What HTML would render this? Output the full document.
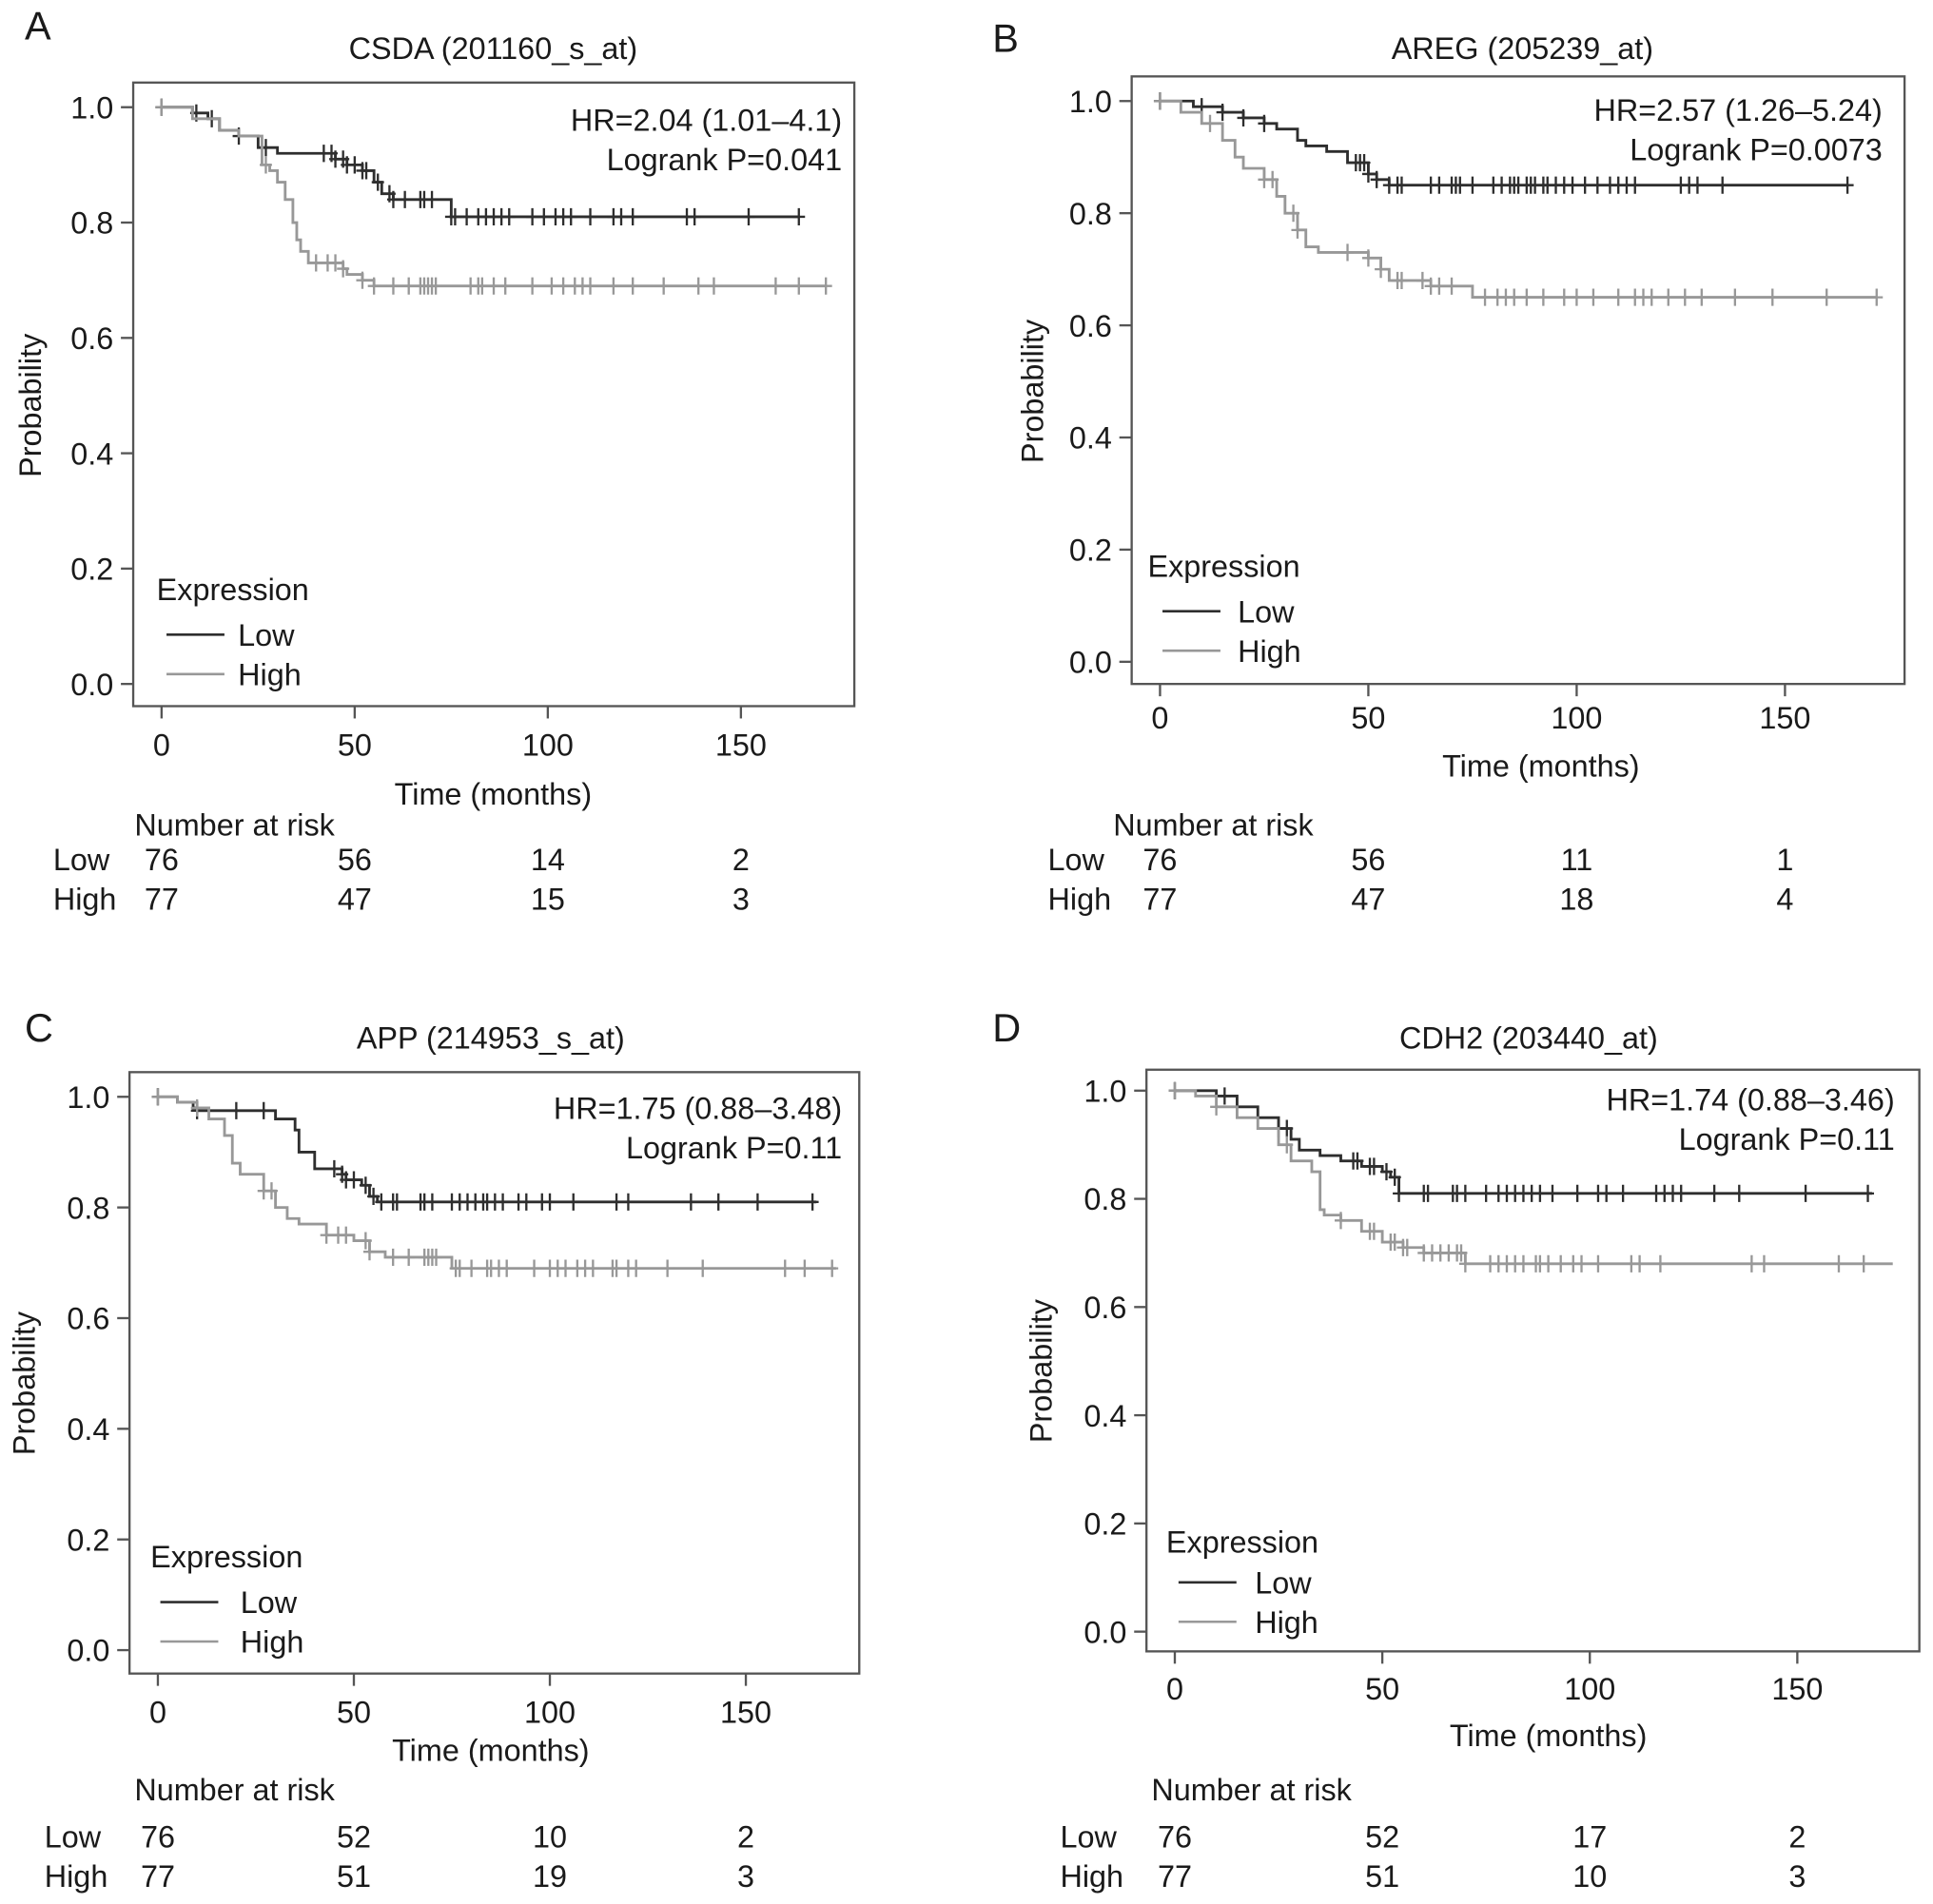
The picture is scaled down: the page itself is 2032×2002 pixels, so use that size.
<!DOCTYPE html>
<html><head><meta charset="utf-8"><style>
html,body{margin:0;padding:0;background:#fff}
svg{display:block}
text{font-family:"Liberation Sans",Arial,sans-serif;fill:#1a1a1a}
</style></head><body>
<svg id="fig" xmlns="http://www.w3.org/2000/svg" width="2032" height="2002" viewBox="0 0 1568 1545"></svg>
<script>
// ---------- data ----------
const panelLetters = ["A","B","C","D"];
const panelTitles = ["CSDA (201160_s_at)","AREG (205239_at)","APP (214953_s_at)","CDH2 (203440_at)"];
const hrTexts = ["HR=2.04 (1.01\u20134.1)","HR=2.57 (1.26\u20135.24)","HR=1.75 (0.88\u20133.48)","HR=1.74 (0.88\u20133.46)"];
const pTexts = ["Logrank P=0.041","Logrank P=0.0073","Logrank P=0.11","Logrank P=0.11"];
const xTicks = [0,50,100,150];
const yTicks = [0,0.2,0.4,0.6,0.8,1.0];
const riskLow = [[76,56,14,2],[76,56,11,1],[76,52,10,2],[76,52,17,2]];
const riskHigh = [[77,47,15,3],[77,47,18,4],[77,51,19,3],[77,51,10,3]];
const lowTimes = [
 [0,8,12,15,20,25,30,45,48,52,55,57,60,75,165],
 [0,8,15,20,25,28,33,35,40,45,50,52,55,165],
 [0,5,9,10,28,30,35,36,40,47,48,52,54,56,168],
 [0,10,15,20,25,28,30,35,40,45,50,52,54,168]];
const lowSurv = [
 [1.0,0.99,0.98,0.96,0.95,0.93,0.92,0.91,0.90,0.89,0.87,0.85,0.84,0.81,0.81],
 [1.0,0.99,0.98,0.97,0.96,0.95,0.93,0.92,0.91,0.89,0.87,0.86,0.85,0.85],
 [1.0,0.99,0.98,0.975,0.975,0.96,0.94,0.90,0.87,0.86,0.85,0.84,0.82,0.81,0.81],
 [1.0,0.99,0.97,0.95,0.93,0.91,0.89,0.88,0.87,0.86,0.85,0.84,0.81,0.81]];
const highTimes = [
 [0,8,15,20,26,28,30,32,34,35,36,38,47,48,52,55,172],
 [0,5,10,15,18,20,25,28,30,33,35,38,50,53,55,65,75,172],
 [0,5,10,13,17,19,21,27,30,33,36,43,50,54,58,75,173],
 [0,5,10,15,20,25,28,33,35,36,40,45,50,55,60,70,75,173]];
const highSurv = [
 [1.0,0.98,0.96,0.95,0.90,0.89,0.87,0.84,0.80,0.77,0.75,0.73,0.72,0.71,0.70,0.69,0.69],
 [1.0,0.98,0.96,0.93,0.90,0.88,0.86,0.83,0.80,0.77,0.74,0.73,0.72,0.70,0.68,0.67,0.65,0.65],
 [1.0,0.99,0.98,0.96,0.93,0.88,0.86,0.83,0.80,0.78,0.77,0.75,0.74,0.72,0.71,0.69,0.69],
 [1.0,0.99,0.97,0.95,0.93,0.90,0.87,0.85,0.78,0.77,0.76,0.74,0.72,0.71,0.70,0.68,0.68]];
const lowCensor = [
 [0,9,13,20,27,42,44,45,47,48,50,52,53,56,59,60,63,67,68,70,75,76,79,82,84,86,88,90,96,99,102,104,106,111,117,119,122,136,138,152,165],
 [0,10,15,20,25,47,48,49,50,52,55,57,58,65,67,70,71,72,75,80,82,84,85,86,88,89,90,92,93,95,97,99,102,105,108,110,112,114,125,127,129,135,165],
 [0,10,20,27,45,47,48,50,53,55,57,60,61,67,68,70,75,77,79,81,83,84,86,88,92,94,98,100,106,117,120,136,143,153,167],
 [0,12,20,25,27,43,44,47,48,51,53,54,60,61,67,68,70,75,78,80,82,84,86,88,91,97,102,104,108,116,118,120,122,130,136,152,167]];
const highCensor = [
 [0,27,40,43,45,47,52,55,60,64,67,68,69,70,71,80,82,83,86,89,96,101,104,107,109,111,117,122,130,139,143,159,165,172],
 [0,12,25,27,32,33,45,50,53,57,58,63,65,67,70,78,81,83,85,88,92,97,100,104,110,114,116,118,122,126,130,138,147,160,172],
 [0,10,27,29,43,46,48,53,54,60,64,68,69,70,71,76,77,80,84,85,87,89,96,100,102,104,107,109,111,116,117,120,122,130,139,160,165,172],
 [0,10,27,40,47,48,52,53,55,56,60,62,64,66,68,69,70,76,78,80,82,84,87,88,90,93,96,98,102,110,112,117,139,142,160,166,173]];

const L = [
 {bx0:108,bx1:693,by0:67,by1:573,x0:131,x150:601,y1:87,y0:555,ltr:[20,32],tt:[400,48],xt:613,xl:[400,653],nar:[109,678],rl:[697,729],rlx:43,hr:[683,106],leg:[127,487,135,193,515,547],yl:25},
 {bx0:918,bx1:1545,by0:62,by1:555,x0:941,x150:1448,y1:82,y0:537,ltr:[805,42],tt:[1235,48],xt:591,xl:[1250,630],nar:[903,678],rl:[697,729],rlx:850,hr:[1527,98],leg:[931,468,943,1004,496,528],yl:838},
 {bx0:105,bx1:697,by0:870,by1:1358,x0:128,x150:605,y1:890,y0:1339,ltr:[20,845],tt:[398,851],xt:1398,xl:[398,1429],nar:[109,1461],rl:[1490,1522],rlx:36,hr:[683,908],leg:[122,1272,130,195,1300,1332],yl:20},
 {bx0:930,bx1:1557,by0:868,by1:1340,x0:953,x150:1458,y1:885,y0:1324,ltr:[805,845],tt:[1240,851],xt:1379,xl:[1256,1417],nar:[934,1461],rl:[1490,1522],rlx:860,hr:[1537,901],leg:[946,1260,956,1018,1284,1316],yl:845}];

const svg = document.getElementById('fig');
const NS = 'http://www.w3.org/2000/svg';
const FS = 25;
function mk(tag, attrs, parent, txt){
  const e = document.createElementNS(NS, tag);
  for (const k in attrs) e.setAttribute(k, attrs[k]);
  if (txt !== undefined) e.textContent = txt;
  (parent||svg).appendChild(e);
  return e;
}
const DARK = '#2e2e2e', LIGHT = '#989898';

function survAt(times, surv, t){
  let s = surv[0];
  for (let i=0;i<times.length;i++){ if (times[i] <= t) s = surv[i]; }
  return s;
}

L.forEach((g, p) => {
  const grp = mk('g', {});
  
  
  const xs = t => g.x0 + (g.x150 - g.x0) * t / 150;
  const ys = v => g.y0 + (g.y1 - g.y0) * v;

  let e = mk('text', {x:g.ltr[0], y:g.ltr[1], 'font-size':32}, grp, panelLetters[p]);
  
  
  e = mk('text', {x:g.tt[0], y:g.tt[1], 'font-size':FS, 'text-anchor':'middle'}, grp, panelTitles[p]);
  
  
  e = mk('rect', {x:g.bx0, y:g.by0, width:g.bx1-g.bx0, height:g.by1-g.by0, fill:'none', stroke:'#555', 'stroke-width':1.8}, grp);
  
  

  yTicks.forEach(v => {
    const y = ys(v);
    const t = mk('line', {x1:g.bx0-10, x2:g.bx0, y1:y, y2:y, stroke:'#555', 'stroke-width':1.8}, grp);
    
    
    const l = mk('text', {x:g.bx0-16, y:y+9, 'font-size':FS, 'text-anchor':'end'}, grp, v.toFixed(1));
    
    
  });
  xTicks.forEach(v => {
    const x = xs(v);
    const t = mk('line', {x1:x, x2:x, y1:g.by1, y2:g.by1+10, stroke:'#555', 'stroke-width':1.8}, grp);
    
    
    const l = mk('text', {x:x, y:g.xt, 'font-size':FS, 'text-anchor':'middle'}, grp, String(v));
    
    
  });
  e = mk('text', {x:g.xl[0], y:g.xl[1], 'font-size':FS, 'text-anchor':'middle'}, grp, 'Time (months)');
  
  
  const ym = (g.y0+g.y1)/2;
  e = mk('text', {x:g.yl, y:ym, 'font-size':FS, 'text-anchor':'middle', transform:`rotate(-90 ${g.yl+8} ${ym})`}, grp, 'Probability');
  
  

  e = mk('text', {x:g.hr[0], y:g.hr[1], 'font-size':FS, 'text-anchor':'end'}, grp, hrTexts[p]);
  
  
  e = mk('text', {x:g.hr[0], y:g.hr[1]+32, 'font-size':FS, 'text-anchor':'end'}, grp, pTexts[p]);
  
  

  [[lowTimes[p], lowSurv[p], lowCensor[p], DARK, 'low'], [highTimes[p], highSurv[p], highCensor[p], LIGHT, 'high']].forEach(([tt, ss, cc, col, nm]) => {
    let d = `M${xs(tt[0])},${ys(ss[0])}`;
    for (let i=1;i<tt.length;i++){
      d += ` H${xs(tt[i])} V${ys(ss[i])}`;
    }
    const path = mk('path', {d:d, fill:'none', stroke:col, 'stroke-width':2.2}, grp);
    
    
    cc.forEach(t => {
      const x = xs(t), y = ys(survAt(tt, ss, t));
      const c = mk('path', {d:`M${x-5},${y} H${x+5} M${x},${y-7} V${y+7}`, stroke:col, 'stroke-width':1.8, fill:'none'}, grp);
      
      
    });
  });

  const lg = g.leg;
  e = mk('text', {x:lg[0], y:lg[1], 'font-size':FS}, grp, 'Expression');
  
  
  [['Low', DARK, lg[4]], ['High', LIGHT, lg[5]]].forEach(([lab, col, y]) => {
    const ln = mk('line', {x1:lg[2], x2:lg[2]+47, y1:y, y2:y, stroke:col, 'stroke-width':2}, grp);
    
    
    const t = mk('text', {x:lg[3], y:y+9, 'font-size':FS}, grp, lab);
    
    
  });

  e = mk('text', {x:g.nar[0], y:g.nar[1], 'font-size':FS}, grp, 'Number at risk');
  
  
  [['Low', riskLow[p], g.rl[0]], ['High', riskHigh[p], g.rl[1]]].forEach(([lab, vals, y]) => {
    const t = mk('text', {x:g.rlx, y:y+9, 'font-size':FS}, grp, lab);
    
    
    vals.forEach((v, i) => {
      const n = mk('text', {x:xs(xTicks[i]), y:y+9, 'font-size':FS, 'text-anchor':'middle'}, grp, String(v));
      
      
    });
  });
});
</script>
</body></html>
